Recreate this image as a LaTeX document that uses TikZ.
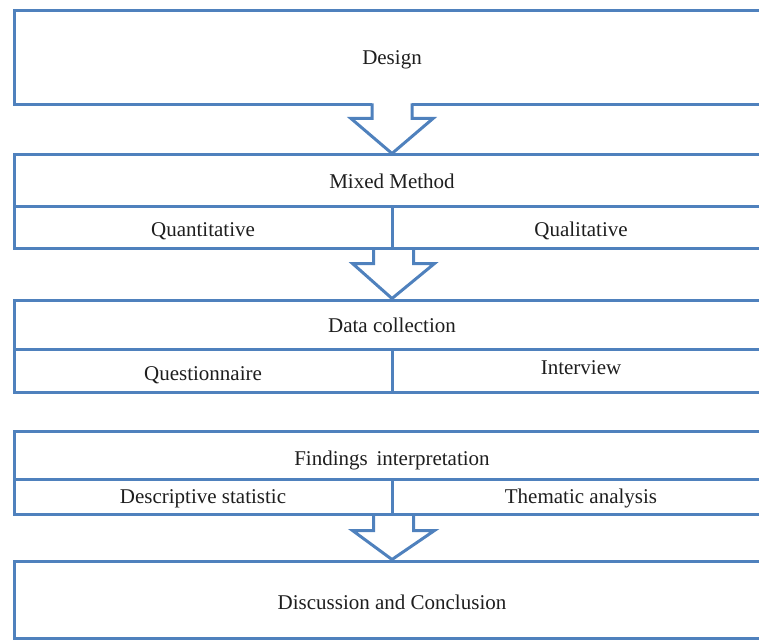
\documentclass[tikz,border=0pt]{standalone}
\usepackage{fontspec}
\setmainfont{Liberation Serif}
\usetikzlibrary{calc}
\definecolor{boxblue}{RGB}{79,129,189}
\definecolor{txt}{RGB}{30,30,30}
\begin{document}
\begin{tikzpicture}[x=1pt,y=-1pt,
  cell/.style={draw=boxblue, line width=3pt, rectangle, inner sep=0pt},
  band/.style={cell, minimum width=756pt},
  half/.style={cell, minimum width=378pt},
  lbl/.style={inner sep=0pt, text=txt, text height=14pt, text depth=4pt,
    font=\fontsize{21}{25}\selectfont},
  arrowline/.style={draw=boxblue, line width=3pt, line join=miter}]
\useasboundingbox (0,0) rectangle (759,639);
\clip (0,0) rectangle (759,639);

% Box 1
\node[band, minimum height=94pt] (design) at (392,58) {};
% Box 2
\node[band, minimum height=51pt] (mixed) at (392,180.5) {};
\node[half, minimum height=42pt] (quant) at (203,227) {};
\node[half, minimum height=42pt] (qual) at (581,227) {};
% Box 3
\node[band, minimum height=49pt] (data) at (392,324.5) {};
\node[half, minimum height=43pt] (quest) at (203,370.5) {};
\node[half, minimum height=43pt] (inter) at (581,370.5) {};
% Box 4
\node[band, minimum height=48pt] (find) at (392,455) {};
\node[half, minimum height=35pt] (desc) at (203,496.5) {};
\node[half, minimum height=35pt] (them) at (581,496.5) {};
% Box 5
\node[band, minimum height=77pt] (disc) at (392,599.5) {};

% Labels
\node[lbl] (tdesign) at (392,60) {Design};
\node[lbl] (tmixed) at (392,183) {Mixed Method};
\node[lbl] (tquant) at (203,231) {Quantitative};
\node[lbl] (tqual) at (581,231) {Qualitative};
\node[lbl] (tdata) at (392,327) {Data collection};
\node[lbl] (tquest) at (203,375) {Questionnaire};
\node[lbl] (tinter) at (581,369) {Interview};
\node[lbl] (tfind) at (392,460) {Findings\,  interpretation};
\node[lbl] (tdesc) at (203,498) {Descriptive statistic};
\node[lbl] (tthem) at (581,498) {Thematic analysis};
\node[lbl] (tdisc) at (392,604) {Discussion and Conclusion};

% Block arrows
\fill[white] ($(design.south)+(-20,-4)$) rectangle ($(design.south)+(20,12)$);
\draw[arrowline] ($(design.south)+(-20,-3)$) |- ($(design.south)+(-41,12)$)
  -- (mixed.north) -- ($(design.south)+(41,12)$) -| ($(design.south)+(20,-3)$);

\draw[arrowline] ($(quant.south east)+(-20,-1.5)$) |- ($(quant.south east)+(-41,14)$)
  -- (data.north) -- ($(quant.south east)+(41,14)$) -| ($(quant.south east)+(20,-1.5)$);

\draw[arrowline] ($(desc.south east)+(-20,-1.5)$) |- ($(desc.south east)+(-41,15)$)
  -- (disc.north) -- ($(desc.south east)+(41,15)$) -| ($(desc.south east)+(20,-1.5)$);
\end{tikzpicture}
\end{document}
